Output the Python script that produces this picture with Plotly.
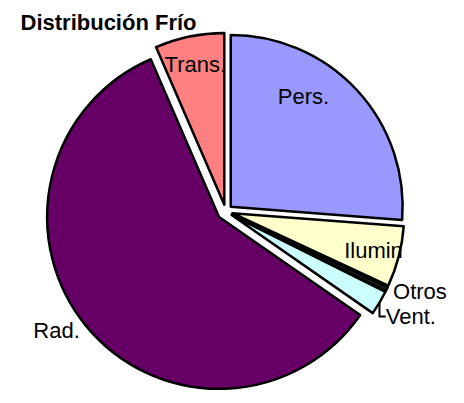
import plotly.graph_objects as go

labels = ["Pers.", "Ilumin", "Otros", "Vent.", "Rad.", "Trans."]
values = [26.2, 5.7, 0.45, 2.3, 58.8, 6.5]
colors = ["#9999FF", "#FFFFCC", "#1a1a1a", "#CCFFFF", "#660066", "#FF8080"]
text_pos = ["inside", "inside", "outside", "outside", "outside", "inside"]
pulls = [0.04, 0.04, 0.04, 0.04, 0.05, 0.04]
# blank lines nudge the Pers. label up, where the original chart had it
shown_text = ["Pers.<br> <br> <br> ", "Ilumin", "Otros", "Vent.", "Rad.", "Trans."]

fig = go.Figure()
fig.add_trace(go.Pie(
    labels=labels, values=values, text=shown_text, sort=False, direction="clockwise", rotation=0,
    marker=dict(colors=colors, line=dict(color="black", width=2.5)),
    pull=pulls,
    textinfo="text", textposition=text_pos, insidetextorientation="horizontal",
    textfont=dict(family="Liberation Sans, Arial", size=22, color="black"),
    domain=dict(x=[0.07, 0.88], y=[0.0, 0.94]),
    showlegend=False, hoverinfo="label+value",
))
fig.update_layout(
    width=464, height=403, margin=dict(l=0, r=0, t=0, b=0),
    paper_bgcolor="white", plot_bgcolor="white",
    uniformtext=dict(minsize=22, mode="show"),
    title=dict(text="<b>Distribución Frío</b>", x=0.027, xanchor="left", y=0.965, yanchor="middle",
               font=dict(family="Liberation Sans, Arial", size=22, color="black")),
)
fig.write_html("out.html")
